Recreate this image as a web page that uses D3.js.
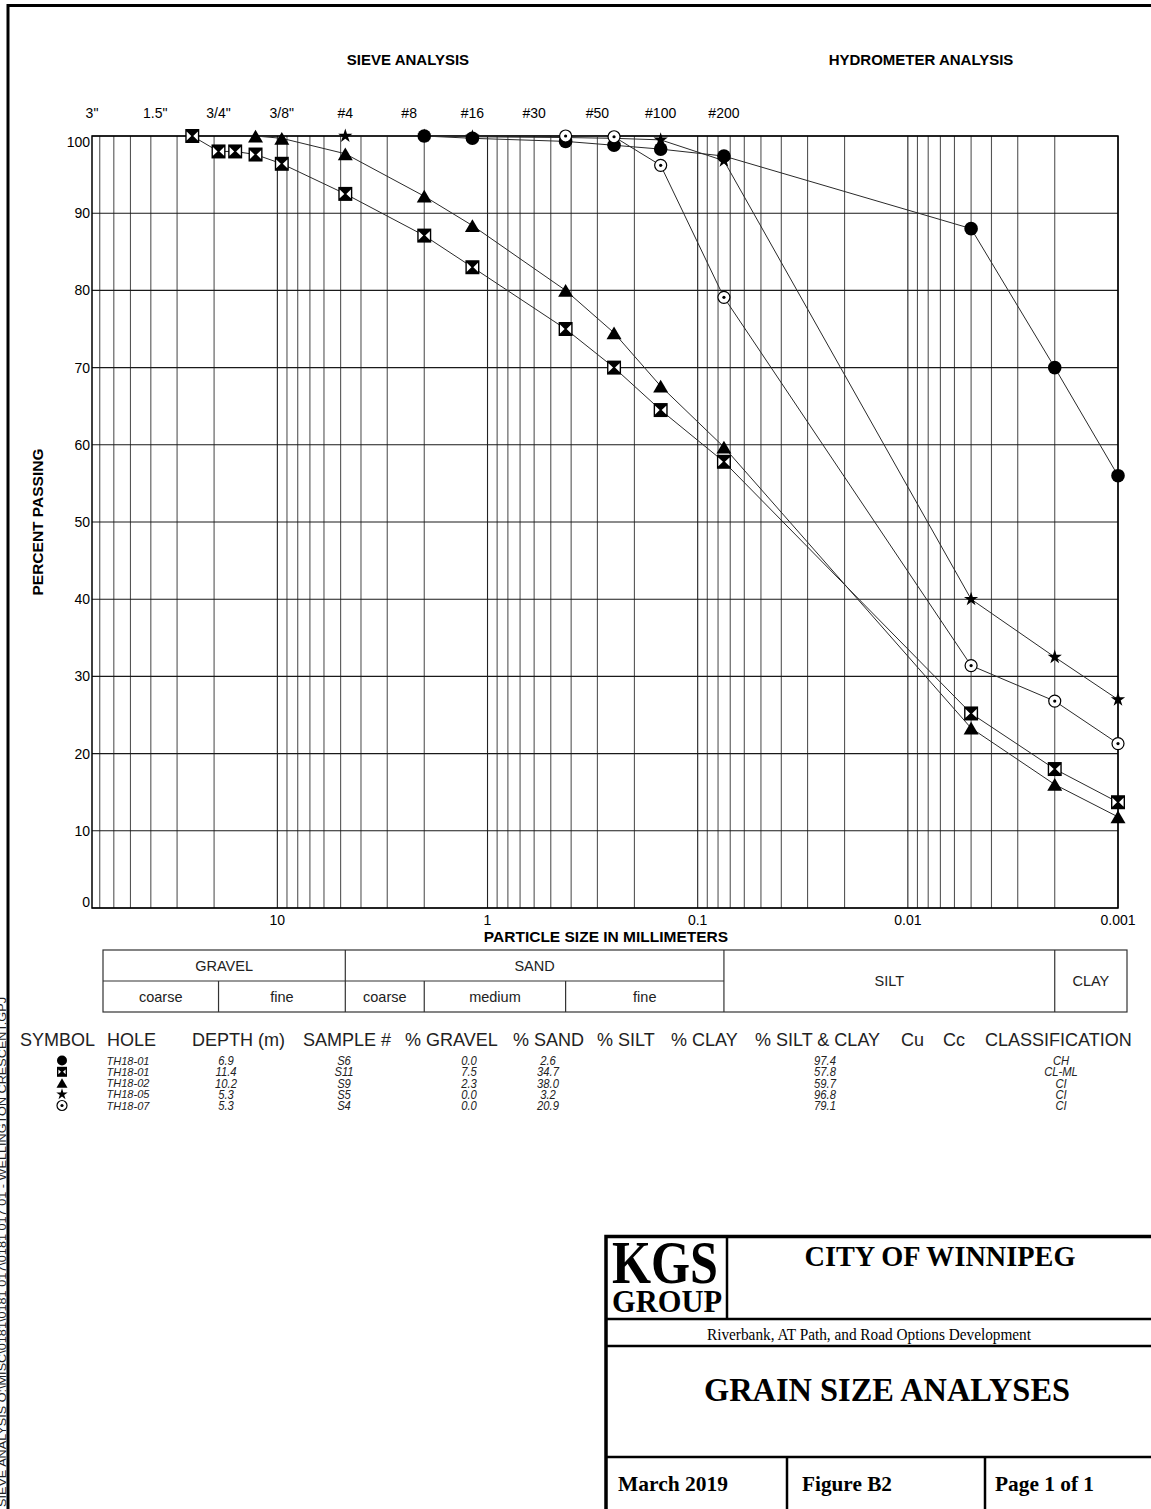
<!DOCTYPE html>
<html>
<head>
<meta charset="utf-8">
<script src="https://cdn.jsdelivr.net/npm/d3@7"></script>
<style>
  body { margin: 0; background: #fff; }
  svg { display: block; font-family: "Liberation Sans", Arial, sans-serif; }
</style>
</head>
<body>
<svg id="chart" width="1151" height="1509"></svg>
<script>
// sieve openings (mm) and their labels along the top
const sieveLabels = ['3"', '1.5"', '3/4"', '3/8"', "#4", "#8", "#16", "#30", "#50", "#100", "#200"];
const sieveSizes = [76.2, 38.1, 19.05, 9.525, 4.75, 2.36, 1.18, 0.6, 0.3, 0.15, 0.075];
const decadeTicks = [10, 1, 0.1, 0.01, 0.001];
const decadeLabels = ["10", "1", "0.1", "0.01", "0.001"];
const percentTicks = [0, 10, 20, 30, 40, 50, 60, 70, 80, 90, 100];

// curves, particle size (mm) vs percent passing
const th1801aSize = [2.0, 1.18, 0.425, 0.25, 0.15, 0.075, 0.005, 0.002, 0.001];
const th1801aPass = [100, 99.7, 99.3, 98.8, 98.3, 97.4, 88.0, 70.0, 56.0];
const th1801bSize = [25.4, 19.05, 15.875, 12.7, 9.525, 4.75, 2.0, 1.18, 0.425, 0.25, 0.15, 0.075, 0.005, 0.002, 0.001];
const th1801bPass = [100, 98.0, 98.0, 97.6, 96.4, 92.5, 87.1, 83.0, 75.0, 70.0, 64.5, 57.8, 25.2, 18.0, 13.7];
const th1802Size = [12.7, 9.525, 4.75, 2.0, 1.18, 0.425, 0.25, 0.15, 0.075, 0.005, 0.002, 0.001];
const th1802Pass = [100, 99.7, 97.7, 92.2, 88.4, 80.0, 74.5, 67.6, 59.7, 23.3, 16.0, 11.8];
const th1805Size = [4.75, 2.0, 1.18, 0.425, 0.25, 0.15, 0.075, 0.005, 0.002, 0.001];
const th1805Pass = [100, 100, 99.9, 99.8, 99.7, 99.5, 96.8, 40.0, 32.5, 27.0];
const th1807Size = [0.425, 0.25, 0.15, 0.075, 0.005, 0.002, 0.001];
const th1807Pass = [100, 99.9, 96.2, 79.1, 31.4, 26.8, 21.3];

// sample table
const symbols = ["circle", "bowtie", "triangle", "star", "circledot"];
const holes = ["TH18-01", "TH18-01", "TH18-02", "TH18-05", "TH18-07"];
const depths = ["6.9", "11.4", "10.2", "5.3", "5.3"];
const samples = ["S6", "S11", "S9", "S5", "S4"];
const gravelPct = ["0.0", "7.5", "2.3", "0.0", "0.0"];
const sandPct = ["2.6", "34.7", "38.0", "3.2", "20.9"];
const siltClayPct = ["97.4", "57.8", "59.7", "96.8", "79.1"];
const classes = ["CH", "CL-ML", "CI", "CI", "CI"];

const headers = ["SYMBOL", "HOLE", "DEPTH (m)", "SAMPLE #", "% GRAVEL", "% SAND", "% SILT", "% CLAY", "% SILT & CLAY", "Cu", "Cc", "CLASSIFICATION"];
const headerX = [20, 107, 192, 303, 405, 513, 597, 671, 755, 901, 943, 985];

const svg = d3.select("#chart");

// page frame
svg.append("path")
  .attr("d", "M8,1512V5.5H1155")
  .attr("fill", "none").attr("stroke", "#000").attr("stroke-width", 3);

svg.append("text")
  .attr("transform", "translate(5.5,1507) rotate(-90)")
  .attr("font-size", 10.5).attr("fill", "#222")
  .attr("textLength", 510).attr("lengthAdjust", "spacingAndGlyphs")
  .text("SIEVE ANALYSIS  O:\\MISC\\0181\\0181 017\\0181 017 01 - WELLINGTON CRESCENT.GPJ");

const x = d3.scaleLog().domain([76.2, 0.001]).range([92, 1118]);
const y = d3.scaleLinear().domain([0, 100]).range([908, 136]);

const plot = svg.append("g");

// log grid
const minor = x.ticks();
plot.selectAll("line.vg").data(minor).enter().append("line")
  .attr("x1", d => x(d)).attr("x2", d => x(d))
  .attr("y1", y(0)).attr("y2", y(100))
  .attr("stroke", d => decadeTicks.some(v => Math.abs(v - d) < 1e-9) ? "#222" : "#555")
  .attr("stroke-width", 1.1);

plot.selectAll("line.hg").data(percentTicks).enter().append("line")
  .attr("x1", x(76.2)).attr("x2", x(0.001))
  .attr("y1", d => y(d)).attr("y2", d => y(d))
  .attr("stroke", "#1a1a1a").attr("stroke-width", 1.1);

plot.append("rect")
  .attr("x", x(76.2)).attr("y", y(100))
  .attr("width", x(0.001) - x(76.2)).attr("height", y(0) - y(100))
  .attr("fill", "none").attr("stroke", "#000").attr("stroke-width", 1.5);

// axis labels
plot.selectAll("text.yl").data(percentTicks).enter().append("text")
  .attr("x", 90)
  .attr("y", d => y(d) + (d === 100 ? 11 : d === 0 ? -1 : 5))
  .attr("text-anchor", "end").attr("font-size", 14)
  .text(d => d);

plot.selectAll("text.xl").data(decadeTicks).enter().append("text")
  .attr("x", d => x(d)).attr("y", 925)
  .attr("text-anchor", "middle").attr("font-size", 14)
  .text((d, i) => decadeLabels[i]);

plot.selectAll("text.sl").data(sieveSizes).enter().append("text")
  .attr("x", d => x(d)).attr("y", 118)
  .attr("text-anchor", "middle").attr("font-size", 14)
  .text((d, i) => sieveLabels[i]);

svg.append("text").attr("x", 408).attr("y", 65).attr("text-anchor", "middle")
  .attr("font-size", 15).attr("font-weight", "bold").text("SIEVE ANALYSIS");
svg.append("text").attr("x", 921).attr("y", 65).attr("text-anchor", "middle")
  .attr("font-size", 15).attr("font-weight", "bold").text("HYDROMETER ANALYSIS");
svg.append("text").attr("x", 606).attr("y", 942).attr("text-anchor", "middle")
  .attr("font-size", 15.5).attr("font-weight", "bold").text("PARTICLE SIZE IN MILLIMETERS");
svg.append("text").attr("transform", "translate(43,522) rotate(-90)").attr("text-anchor", "middle")
  .attr("font-size", 15.5).attr("font-weight", "bold").text("PERCENT PASSING");

// marker shapes
function drawSymbol(g, kind, s) {
  if (kind === "circle") {
    g.append("circle").attr("r", s).attr("fill", "#000");
  } else if (kind === "bowtie") {
    g.append("rect").attr("x", -s).attr("y", -s).attr("width", 2 * s).attr("height", 2 * s).attr("fill", "#000");
    g.append("path")
      .attr("d", `M${-s + 1.4},${-s + 2.6}L-1,0L${-s + 1.4},${s - 2.6}Z M${s - 1.4},${-s + 2.6}L1,0L${s - 1.4},${s - 2.6}Z`)
      .attr("fill", "#fff");
  } else if (kind === "triangle") {
    g.append("path").attr("d", `M0,${-s * 0.85}L${s},${s * 0.85}L${-s},${s * 0.85}Z`).attr("fill", "#000");
  } else if (kind === "star") {
    g.append("path").attr("d", d3.symbol(d3.symbolStar, s * s / 0.891)()).attr("fill", "#000");
  } else {
    g.append("circle").attr("r", s).attr("fill", "#fff").attr("stroke", "#000").attr("stroke-width", 1.2);
    g.append("circle").attr("r", 1.6).attr("fill", "#000");
  }
}

const series = [
  { sym: "bowtie", size: th1801bSize, pass: th1801bPass, s: 7 },
  { sym: "triangle", size: th1802Size, pass: th1802Pass, s: 7.5 },
  { sym: "star", size: th1805Size, pass: th1805Pass, s: 7.5 },
  { sym: "circle", size: th1801aSize, pass: th1801aPass, s: 6.8 },
  { sym: "circledot", size: th1807Size, pass: th1807Pass, s: 6 }
];

const line = d3.line().x(d => x(d[0])).y(d => y(d[1]));
series.forEach(sr => {
  plot.append("path")
    .datum(d3.zip(sr.size, sr.pass))
    .attr("d", line)
    .attr("fill", "none").attr("stroke", "#2a2a2a").attr("stroke-width", 1);
});
series.forEach(sr => {
  d3.zip(sr.size, sr.pass).forEach(p => {
    const g = plot.append("g").attr("transform", `translate(${x(p[0])},${y(p[1])})`);
    drawSymbol(g, sr.sym, sr.s);
  });
});

// soil classification band
const band = svg.append("g").attr("stroke", "#333").attr("stroke-width", 1.2).attr("fill", "none");
const bLeft = 103, bRight = 1127, bTop = 950, bMid = 981, bBot = 1012;
band.append("rect").attr("x", bLeft).attr("y", bTop).attr("width", bRight - bLeft).attr("height", bBot - bTop);
band.append("line").attr("x1", bLeft).attr("x2", x(0.075)).attr("y1", bMid).attr("y2", bMid);
[4.75, 0.075, 0.002].forEach(v => {
  band.append("line").attr("x1", x(v)).attr("x2", x(v)).attr("y1", bTop).attr("y2", bBot);
});
[19.05, 2.0, 0.425].forEach(v => {
  band.append("line").attr("x1", x(v)).attr("x2", x(v)).attr("y1", bMid).attr("y2", bBot);
});
const bandText = [
  ["GRAVEL", (bLeft + x(4.75)) / 2, 971], ["SAND", (x(4.75) + x(0.075)) / 2, 971],
  ["coarse", (bLeft + x(19.05)) / 2, 1002], ["fine", (x(19.05) + x(4.75)) / 2, 1002],
  ["coarse", (x(4.75) + x(2.0)) / 2, 1002], ["medium", (x(2.0) + x(0.425)) / 2, 1002],
  ["fine", (x(0.425) + x(0.075)) / 2, 1002],
  ["SILT", (x(0.075) + x(0.002)) / 2, 986], ["CLAY", (x(0.002) + bRight) / 2, 986]
];
svg.selectAll("text.band").data(bandText).enter().append("text")
  .attr("x", d => d[1]).attr("y", d => d[2]).attr("text-anchor", "middle")
  .attr("font-size", 14.5).attr("fill", "#222").text(d => d[0]);

// sample table
svg.selectAll("text.hd").data(headers).enter().append("text")
  .attr("x", (d, i) => headerX[i]).attr("y", 1046)
  .attr("font-size", 18).attr("fill", "#222").text(d => d);

const rowY = [1060.5, 1071.8, 1083, 1094.3, 1105.5];
function cell(cx, cy, txt) {
  svg.append("text")
    .attr("transform", `translate(${cx},${cy + 4.6}) scale(0.9,1)`)
    .attr("text-anchor", "middle").attr("font-size", 12.5).attr("font-style", "italic")
    .attr("fill", "#222").text(txt);
}
rowY.forEach((ry, i) => {
  drawSymbol(svg.append("g").attr("transform", `translate(62,${ry})`), symbols[i],
    symbols[i] === "triangle" ? 5.5 : symbols[i] === "star" ? 6 : 5);
  svg.append("text").attr("x", 128).attr("y", ry + 4).attr("text-anchor", "middle")
    .attr("font-size", 11).attr("font-style", "italic").attr("fill", "#222").text(holes[i]);
  cell(226, ry, depths[i]);
  cell(344, ry, samples[i]);
  cell(469, ry, gravelPct[i]);
  cell(548, ry, sandPct[i]);
  cell(825, ry, siltClayPct[i]);
  cell(1061, ry, classes[i]);
});

// title block
const tb = svg.append("g").attr("stroke", "#000").attr("fill", "none");
tb.append("path").attr("d", "M606,1515V1236.5H1160").attr("stroke-width", 3.5);
tb.append("line").attr("x1", 727).attr("x2", 727).attr("y1", 1236).attr("y2", 1319).attr("stroke-width", 2.5);
[1319, 1346, 1457].forEach(v => {
  tb.append("line").attr("x1", 606).attr("x2", 1160).attr("y1", v).attr("y2", v).attr("stroke-width", 2.5);
});
[787, 985].forEach(v => {
  tb.append("line").attr("x1", v).attr("x2", v).attr("y1", 1457).attr("y2", 1515).attr("stroke-width", 2.5);
});

const serif = '"Liberation Serif", "Times New Roman", serif';
function tbText(str, tx, ty, size, bold, anchor, len) {
  const t = svg.append("text").attr("x", tx).attr("y", ty)
    .attr("font-family", serif).attr("font-size", size)
    .attr("font-weight", bold ? "bold" : "normal")
    .attr("text-anchor", anchor).attr("fill", "#000").text(str);
  if (len) t.attr("textLength", len).attr("lengthAdjust", "spacingAndGlyphs");
}
tbText("KGS", 612, 1283, 62, true, "start", 106);
tbText("GROUP", 612, 1312, 32, true, "start", 110);
tbText("CITY OF WINNIPEG", 940, 1266, 29, true, "middle", 271);
tbText("Riverbank, AT Path, and Road Options Development", 869, 1340, 16, false, "middle", 324);
tbText("GRAIN SIZE ANALYSES", 887, 1401, 33, true, "middle", 366);
tbText("March 2019", 618, 1491, 22, true, "start", 110);
tbText("Figure B2", 802, 1491, 22, true, "start", 90);
tbText("Page 1 of 1", 995, 1491, 22, true, "start", 99);
</script>
</body>
</html>
